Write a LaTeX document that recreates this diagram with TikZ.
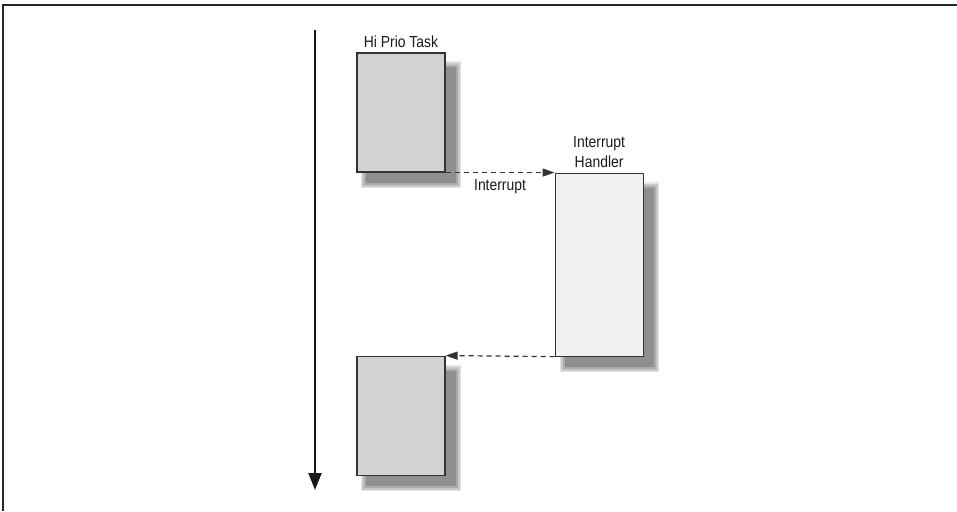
\documentclass[tikz,border=0pt]{standalone}
\usepackage{fontspec}
\setmainfont{Liberation Sans}[FakeStretch=0.87]
\usepackage{tikz}
\usetikzlibrary{arrows.meta,positioning,calc,backgrounds}
\definecolor{taskfill}{HTML}{D1D2D4}
\definecolor{isrfill}{HTML}{F0F0F2}
\definecolor{edge}{HTML}{333333}
\newcommand{\boxshadow}[1]{%
  \fill[black!10] ($(#1.north west)+(5,9)$) rectangle ($(#1.south east)+(15,15)$);
  \fill[black!22] ($(#1.north west)+(6,11)$) rectangle ($(#1.south east)+(14,14)$);
  \fill[black!33] ($(#1.north west)+(8,13)$) rectangle ($(#1.south east)+(12,12)$);
  \fill[black!44] ($(#1.north west)+(10,15)$) rectangle ($(#1.south east)+(10,10)$);}

\begin{document}
\begin{tikzpicture}[
  x=1pt,y=-1pt,
  font=\fontsize{16}{20}\selectfont,
  task/.style={draw=edge,line width=1.1pt,fill=taskfill,inner sep=0pt,
               minimum width=88pt,minimum height=119pt},
  isr/.style={task,fill=isrfill,minimum height=183pt},
  lbl/.style={inner sep=0pt,align=center,text=black!90},
  call/.style={-{Triangle[length=12pt,width=8pt]},line width=1.2pt,
               dash pattern=on 5pt off 4pt,color=edge},
  timeline/.style={-{Triangle[length=17pt,width=13pt]},line width=2.2pt,color=black!90}
]
\useasboundingbox (0,0) rectangle (957,511);
\draw[line width=2pt,black!85] (3,511) -- (3,5) -- (957,5);
\node[task] (hi) at (401,112.5) {};
\node[task,below=183pt of hi] (back) {};
\node[isr,anchor=north west] (handler) at ($(hi.south east)+(109,0)$) {};
\node[lbl,above=5pt of hi] (hilbl) {Hi Prio Task};
\node[lbl,above=5pt of handler] (hlbl) {Interrupt\\Handler};
\begin{scope}[on background layer]
  \boxshadow{hi}
  \boxshadow{back}
  \boxshadow{handler}
\end{scope}
% time axis
\coordinate (t0) at (315,30);
\coordinate (t1) at (315,490);
\draw[timeline] (t0) -- (t1);
% interrupt in and return
\draw[call] (hi.south east) -- node[lbl,below=6pt]{Interrupt} (handler.north west);
\draw[call] (handler.south west) -- (back.north east);
\end{tikzpicture}
\end{document}
